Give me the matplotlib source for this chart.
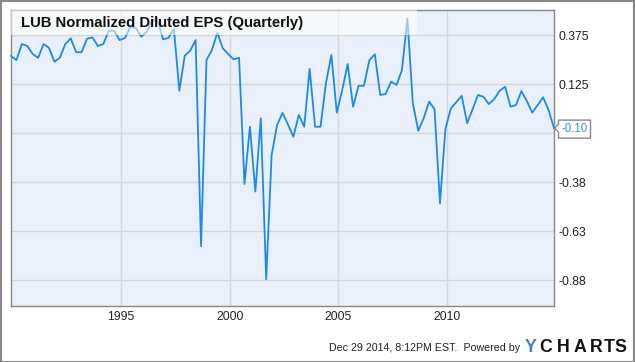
import matplotlib
matplotlib.use("Agg")
import matplotlib.pyplot as plt
from matplotlib.patches import Rectangle, Polygon
from matplotlib.transforms import IdentityTransform
import numpy as np

plt.rcParams['font.family'] = ['Liberation Sans', 'DejaVu Sans']

# quarterly normalized diluted EPS
first_quarter = 1989.93
eps = [
	0.268, 0.247, 0.329, 0.319, 0.278, 0.259, 0.329, 0.309, 0.239, 0.259,
	0.329, 0.358, 0.287, 0.287, 0.356, 0.363, 0.319, 0.329, 0.397, 0.397,
	0.349, 0.360, 0.417, 0.410, 0.366, 0.392, 0.450, 0.450, 0.353, 0.360,
	0.406, 0.091, 0.269, 0.295, 0.349, -0.703, 0.247, 0.298, 0.387, 0.307,
	0.278, 0.251, 0.259, -0.385, -0.093, -0.424, -0.050, -0.871, -0.237, -0.085,
	-0.022, -0.081, -0.144, -0.033, -0.093, 0.202, -0.093, -0.093, 0.129, 0.273,
	-0.021, 0.094, 0.227, 0.009, 0.116, 0.116, 0.247, 0.277, 0.069, 0.074,
	0.137, 0.120, 0.196, 0.460, 0.027, -0.113, -0.050, 0.035, -0.003, -0.484,
	-0.105, 0.001, 0.032, 0.065, -0.075, -0.004, 0.069, 0.060, 0.023, 0.048,
	0.091, 0.111, 0.009, 0.018, 0.089, 0.038, -0.021, 0.018, 0.057, -0.008,
	-0.100,
]
dates = first_quarter + 0.25 * np.arange(len(eps))

year_ticks = [1995, 2000, 2005, 2010]
eps_ticks = [0.375, 0.125, -0.125, -0.375, -0.625, -0.875]
eps_tick_labels = ['0.375', '0.125', '', '-0.38', '-0.63', '-0.88']
last_label = '-0.10'
title = 'LUB Normalized Diluted EPS (Quarterly)'
footer = 'Dec 29 2014, 8:12PM EST.  Powered by'

W, H = 635, 362
fig = plt.figure(figsize=(W / 100, H / 100), dpi=100)
ax = fig.add_axes([11 / W, 56 / H, 543 / W, 296 / H])
ax.set_facecolor('#eaf0fb')

line_color = '#1b8be9'
ax.plot(dates, eps, color=line_color, lw=1.3, zorder=2, clip_on=False)

ax.set_xlim(1989.93, 2014.93)
ax.set_ylim(-1.0076, 0.5026)
ax.set_xticks(year_ticks)
ax.set_xticklabels([str(y) for y in year_ticks])
ax.set_yticks(eps_ticks)
ax.set_yticklabels(eps_tick_labels)
ax.yaxis.tick_right()
ax.tick_params(length=0, labelsize=8.7, colors='#222222')
ax.tick_params(axis='y', pad=3.5)
ax.tick_params(axis='x', pad=3.5)
ax.grid(True, color='#d6d6d6', lw=1)
ax.set_axisbelow(True)
for s in ax.spines.values():
	s.set_color('#888888')
	s.set_linewidth(1)

# title box over the plot
ax.add_patch(Rectangle((0, 0.9155), 0.748, 0.0845, transform=ax.transAxes,
	fc='white', alpha=0.55, lw=0, zorder=3))
ax.text(0.018, 0.957, title, transform=ax.transAxes, fontsize=10.7,
	fontweight='bold', va='center', ha='left', color='#111111', zorder=4)

# flag for the last value
fig.canvas.draw()
px, py = ax.transData.transform((dates[-1], eps[-1]))
bx = px + 4.5
flag = Polygon([(bx, py + 4), (bx, py + 8), (bx + 32, py + 8), (bx + 32, py - 10),
	(bx, py - 10), (bx, py - 4), (px + 0.5, py)], closed=True,
	fc='white', ec='#888888', lw=1, transform=IdentityTransform(), zorder=5)
fig.patches.append(flag)
fig.text((bx + 16) / W, (py - 1) / H, last_label, color='#3a8fdc', fontsize=8.3,
	ha='center', va='center', zorder=6)

# footer
fig.text(329 / W, 1 - 348 / H, footer, fontsize=7.7, color='#222222',
	ha='left', va='center')
logo = [('Y', 530.7, '#3b82d6'), ('C', 546, '#111111'), ('H', 563.7, '#111111'),
	('A', 580.3, '#111111'), ('R', 596.3, '#111111'), ('T', 609.5, '#111111'),
	('S', 620, '#111111')]
for ch, lx, col in logo:
	fig.text(lx / W, 1 - 348 / H, ch, fontsize=12.8, fontweight='bold',
		color=col, ha='center', va='center')

# outer border
fig.patches.append(Rectangle((0.5, 0.5), W - 1.5, H - 1.5, fc='none',
	ec='#888888', lw=1.5, transform=IdentityTransform()))

fig.savefig('out.png', dpi=100)
